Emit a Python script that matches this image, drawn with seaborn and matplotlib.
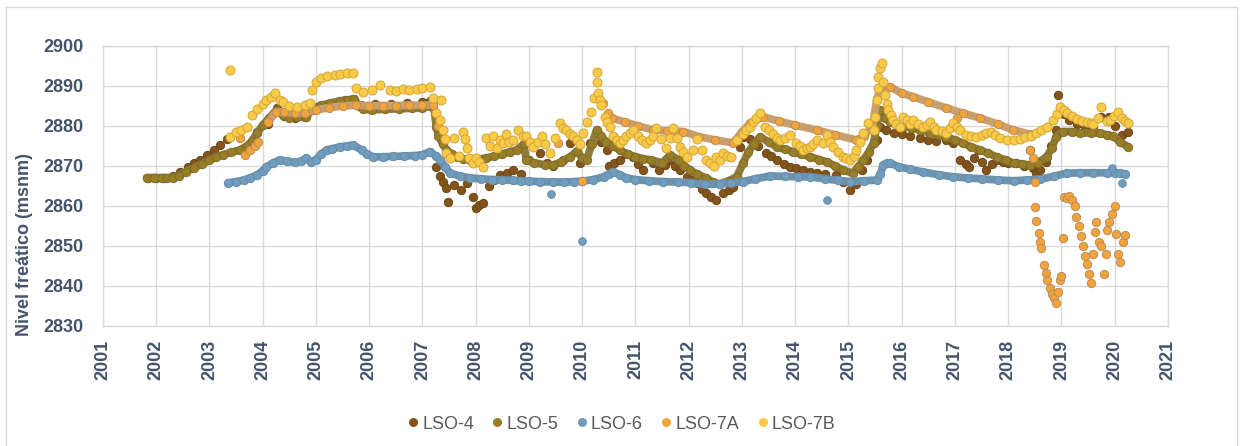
import matplotlib
matplotlib.use("Agg")
import matplotlib.pyplot as plt
import seaborn as sns
import pandas as pd
import numpy as np
from matplotlib.lines import Line2D

# ---------------------------------------------------------------------------
# Nivel freático por pozo (año decimal, msnm)
# ---------------------------------------------------------------------------
lso4 = [(2001.85,2867.0),(2002.0,2867.0),(2002.15,2867.0),(2002.31,2867.5),(2002.45,2868.6),(2002.6,2869.8),
        (2002.7,2870.7),(2002.82,2871.6),(2002.95,2872.7),(2003.08,2874.0),(2003.2,2875.2),(2003.32,2876.8),
        (2003.9,2878.6),(2004.1,2880.5),(2004.26,2884.5),(2004.4,2882.5),(2004.6,2882.0),(2004.8,2882.2),
        (2004.95,2884.0),(2005.15,2885.0),(2005.35,2885.8),(2005.55,2886.4),(2005.7,2886.8),(2005.85,2885.3),
        (2006.1,2885.4),(2006.4,2885.6),(2006.7,2885.8),(2007.0,2886.0),(2007.15,2886.2),(2007.26,2869.8),
        (2007.33,2867.5),(2007.38,2866.0),(2007.45,2864.5),(2007.48,2861.0),(2007.6,2865.2),(2007.72,2864.0),
        (2007.83,2865.7),(2007.95,2862.3),(2008.0,2859.5),(2008.07,2860.2),(2008.14,2860.7),(2008.25,2865.0),
        (2008.35,2866.5),(2008.45,2867.7),(2008.58,2868.3),(2008.7,2869.0),(2008.85,2868.0),(2009.0,2871.5),
        (2009.2,2873.2),(2009.33,2870.7),(2009.45,2870.0),(2009.64,2871.5),(2009.77,2875.7),(2009.95,2870.7),
        (2010.15,2875.7),(2010.27,2878.5),(2010.36,2876.0),(2010.46,2874.0),(2010.5,2870.0),(2010.6,2870.8),
        (2010.7,2871.5),(2010.82,2873.0),(2010.95,2872.3),(2011.05,2870.5),(2011.14,2869.0),(2011.33,2870.7),
        (2011.45,2869.0),(2011.55,2870.2),(2011.65,2871.5),(2011.75,2870.0),(2011.83,2869.0),(2011.96,2867.3),
        (2012.05,2866.5),(2012.15,2865.7),(2012.25,2864.3),(2012.33,2863.2),(2012.42,2862.3),(2012.52,2861.5),
        (2012.65,2863.2),(2012.75,2864.0),(2012.83,2864.8),(2012.96,2874.8),(2013.02,2877.2),(2013.15,2876.7),
        (2013.3,2875.0),(2013.46,2873.2),(2013.55,2872.5),(2013.65,2871.5),(2013.78,2870.5),(2013.9,2869.8),
        (2014.02,2869.5),(2014.15,2869.0),(2014.28,2868.6),(2014.4,2868.2),(2014.55,2868.0),(2014.77,2867.7),
        (2014.9,2866.0),(2015.03,2864.0),(2015.15,2865.5),(2015.25,2869.0),(2015.34,2871.5),(2015.47,2875.7),
        (2015.53,2876.5),(2015.59,2879.8),(2015.7,2879.0),(2015.85,2878.3),(2016.0,2878.0),(2016.15,2877.5),
        (2016.34,2877.0),(2016.5,2876.5),(2016.65,2876.3),(2016.84,2876.5),(2016.96,2875.7),(2017.1,2871.5),
        (2017.2,2870.5),(2017.27,2869.8),(2017.35,2872.0),(2017.43,2874.0),(2017.5,2871.0),(2017.59,2869.0),
        (2017.7,2870.5),(2017.78,2871.5),(2017.9,2871.0),(2018.0,2870.8),(2018.15,2870.7),(2018.3,2870.0),
        (2018.4,2874.0),(2018.47,2869.5),(2018.53,2868.2),(2018.6,2869.0),(2018.7,2871.0),(2018.8,2875.0),
        (2018.9,2879.0),(2018.94,2887.8),(2019.05,2883.0),(2019.15,2881.5),(2019.3,2880.5),(2019.45,2880.0),
        (2019.6,2879.5),(2019.75,2882.3),(2019.9,2882.3),(2020.0,2880.0),(2020.13,2877.7),(2020.25,2878.5)]

lso5 = [(2001.82,2867.1),(2001.95,2867.1),(2002.1,2867.1),(2002.2,2867.1),(2002.31,2867.1),(2002.42,2867.6),
        (2002.55,2868.5),(2002.7,2869.5),(2002.85,2870.5),(2003.0,2871.4),(2003.13,2872.3),(2003.25,2872.8),
        (2003.4,2873.4),(2003.57,2874.0),(2003.7,2875.0),(2003.8,2876.3),(2003.89,2878.2),(2004.0,2880.2),
        (2004.12,2882.0),(2004.26,2884.0),(2004.38,2882.7),(2004.5,2882.0),(2004.65,2882.2),(2004.82,2882.3),
        (2004.95,2884.5),(2005.1,2885.2),(2005.26,2885.7),(2005.45,2886.3),(2005.6,2886.5),(2005.72,2886.8),
        (2005.8,2885.0),(2005.89,2884.2),(2006.05,2884.0),(2006.3,2884.2),(2006.55,2884.3),(2006.8,2884.4),
        (2007.0,2884.5),(2007.14,2885.0),(2007.2,2886.0),(2007.26,2879.8),(2007.3,2877.5),(2007.38,2875.5),
        (2007.45,2874.0),(2007.55,2873.0),(2007.64,2872.3),(2007.76,2871.8),(2007.89,2871.5),(2008.05,2871.7),
        (2008.2,2872.0),(2008.35,2872.5),(2008.5,2873.0),(2008.65,2873.6),(2008.77,2874.0),(2008.9,2875.5),
        (2008.95,2871.5),(2009.1,2870.8),(2009.3,2870.3),(2009.45,2870.2),(2009.6,2871.0),(2009.77,2872.3),
        (2009.9,2873.7),(2010.0,2872.0),(2010.08,2871.5),(2010.18,2875.5),(2010.27,2879.0),(2010.36,2877.5),
        (2010.45,2876.0),(2010.58,2875.0),(2010.7,2874.0),(2010.85,2873.0),(2011.0,2872.3),(2011.15,2871.8),
        (2011.3,2871.5),(2011.5,2870.8),(2011.65,2872.7),(2011.82,2871.5),(2011.92,2870.0),(2012.02,2869.0),
        (2012.15,2868.0),(2012.33,2867.0),(2012.45,2866.0),(2012.58,2865.5),(2012.75,2866.3),(2012.9,2867.3),
        (2013.02,2870.7),(2013.12,2873.5),(2013.22,2875.5),(2013.34,2877.3),(2013.5,2876.0),(2013.65,2874.8),
        (2013.8,2874.2),(2013.96,2873.6),(2014.1,2873.0),(2014.28,2872.3),(2014.45,2871.6),(2014.6,2871.0),
        (2014.75,2870.0),(2014.9,2869.0),(2015.08,2868.2),(2015.18,2869.8),(2015.28,2871.5),(2015.38,2873.5),
        (2015.47,2875.7),(2015.53,2880.0),(2015.6,2884.0),(2015.68,2882.0),(2015.78,2881.0),(2015.97,2879.8),
        (2016.2,2879.5),(2016.35,2879.0),(2016.53,2878.2),(2016.7,2877.8),(2016.84,2877.3),(2017.0,2876.5),
        (2017.15,2875.7),(2017.3,2874.8),(2017.47,2874.0),(2017.62,2873.2),(2017.78,2872.3),(2017.95,2871.5),
        (2018.1,2870.7),(2018.25,2870.5),(2018.4,2870.3),(2018.55,2870.8),(2018.72,2872.3),(2018.82,2874.5),
        (2018.9,2877.3),(2019.03,2878.6),(2019.2,2878.6),(2019.35,2878.2),(2019.55,2878.3),(2019.72,2878.2),
        (2019.85,2877.8),(2019.97,2877.5),(2020.1,2876.0),(2020.25,2874.8)]

lso6 = [(2003.35,2865.8),(2003.5,2866.1),(2003.65,2866.5),(2003.76,2867.0),(2003.9,2867.8),(2004.0,2868.8),
        (2004.07,2869.8),(2004.2,2870.8),(2004.32,2871.5),(2004.45,2871.2),(2004.6,2870.9),(2004.72,2871.2),
        (2004.82,2872.0),(2004.9,2871.0),(2005.0,2871.6),(2005.1,2873.0),(2005.2,2874.0),(2005.3,2874.3),
        (2005.45,2874.8),(2005.58,2875.0),(2005.7,2875.2),(2005.86,2874.0),(2005.95,2873.0),(2006.07,2872.3),
        (2006.25,2872.3),(2006.45,2872.4),(2006.65,2872.5),(2006.85,2872.6),(2007.0,2872.8),(2007.14,2873.6),
        (2007.25,2872.5),(2007.33,2871.5),(2007.42,2869.8),(2007.52,2868.2),(2007.7,2867.5),(2007.9,2867.0),
        (2008.1,2866.8),(2008.3,2866.6),(2008.5,2866.5),(2008.7,2866.4),(2008.85,2866.2),(2009.0,2866.2),
        (2009.2,2866.1),(2009.45,2866.0),(2009.65,2866.0),(2009.85,2866.1),(2010.0,2866.2),(2010.2,2866.6),
        (2010.4,2867.3),(2010.5,2868.0),(2010.58,2868.6),(2010.7,2867.8),(2010.83,2867.0),(2011.0,2866.6),
        (2011.25,2866.3),(2011.52,2866.1),(2011.8,2866.0),(2012.05,2865.8),(2012.3,2865.4),(2012.58,2865.5),
        (2012.8,2865.8),(2013.02,2866.1),(2013.25,2866.8),(2013.53,2867.5),(2013.8,2867.4),(2014.05,2867.3),
        (2014.28,2867.3),(2014.55,2866.8),(2014.8,2866.4),(2015.03,2866.1),(2015.3,2866.3),(2015.53,2866.5),
        (2015.6,2868.0),(2015.65,2870.2),(2015.72,2870.7),(2015.78,2870.7),(2015.95,2869.8),(2016.15,2869.2),
        (2016.4,2868.5),(2016.7,2867.8),(2016.96,2867.3),(2017.25,2867.0),(2017.5,2866.8),(2017.8,2866.5),
        (2018.1,2866.3),(2018.35,2866.5),(2018.6,2866.7),(2018.85,2867.4),(2019.1,2868.2),(2019.35,2868.3),
        (2019.6,2868.3),(2019.85,2868.3),(2020.0,2868.3),(2020.1,2868.2),(2020.2,2868.0)]
lso6_aislados = [(2009.41,2863.0),(2010.0,2851.3),(2014.6,2861.5),(2019.94,2869.4),(2020.13,2865.8)]

lso7a_tramo1 = [(2004.1,2881.0),(2004.25,2883.5),(2004.4,2883.5),(2004.6,2883.2),(2004.8,2883.3),(2005.0,2884.0),
                (2005.25,2884.6),(2005.5,2885.0),(2005.75,2885.2),(2006.0,2885.1),(2006.25,2885.1),(2006.5,2885.1),
                (2006.75,2885.2),(2007.0,2885.2),(2007.2,2885.3)]
lso7a_tramo2 = [(2010.55,2882.0),(2010.8,2881.0),(2011.05,2880.0),(2011.33,2879.0),(2011.6,2878.8),(2011.9,2878.6),
                (2012.2,2877.3),(2012.5,2876.5),(2012.83,2875.8),(2013.0,2878.5),(2013.15,2880.7),(2013.4,2882.3),
                (2013.7,2881.2),(2014.0,2880.2),(2014.4,2879.0),(2014.75,2877.8),(2015.15,2876.5),(2015.3,2877.5),
                (2015.45,2880.0),(2015.53,2886.5),(2015.6,2889.8),(2015.78,2889.8),(2016.0,2888.2),(2016.22,2887.3),
                (2016.5,2886.0),(2016.84,2884.5),(2017.15,2883.2),(2017.47,2882.0),(2017.8,2880.5),(2018.09,2879.0),
                (2018.4,2878.0)]
lso7a_sueltos = [(2003.57,2877.0),(2003.67,2872.7),(2003.76,2874.0),(2003.85,2875.0),(2003.92,2876.0),(2007.3,2880.0),
                 (2009.55,2875.7),(2010.0,2866.2),(2010.39,2885.7),(2010.48,2883.2),(2017.03,2882.0),(2018.4,2874.0),
                 (2018.47,2872.0),(2018.5,2866.0),(2018.5,2859.7),(2018.53,2856.2),(2018.57,2853.3),(2018.6,2851.0),
                 (2018.62,2849.5),(2018.68,2845.2),(2018.7,2843.2),(2018.73,2841.5),(2018.78,2839.5),(2018.82,2838.0),
                 (2018.86,2837.0),(2018.9,2835.7),(2018.93,2838.5),(2018.97,2841.5),(2019.0,2842.5),(2019.02,2852.0),
                 (2019.05,2862.3),(2019.1,2862.0),(2019.15,2862.5),(2019.2,2861.5),(2019.25,2860.0),(2019.28,2857.3),
                 (2019.32,2855.0),(2019.36,2852.5),(2019.4,2850.0),(2019.44,2847.5),(2019.48,2845.5),(2019.52,2843.0),
                 (2019.56,2840.7),(2019.6,2848.0),(2019.62,2853.5),(2019.65,2856.0),(2019.7,2851.0),(2019.75,2850.0),
                 (2019.8,2843.0),(2019.83,2848.0),(2019.86,2854.0),(2019.9,2856.0),(2019.95,2858.0),(2020.0,2860.0),
                 (2020.03,2853.0),(2020.07,2848.0),(2020.1,2846.0),(2020.16,2851.0),(2020.2,2852.7)]

lso7b = [(2003.38,2894.0),(2003.38,2877.3),(2003.5,2878.6),(2003.6,2879.0),(2003.7,2879.7),(2003.79,2882.7),
         (2003.9,2884.3),(2004.0,2885.5),(2004.07,2886.5),(2004.15,2887.3),(2004.23,2888.3),(2004.33,2886.5),
         (2004.38,2886.0),(2004.5,2885.0),(2004.65,2884.8),(2004.8,2885.2),(2004.89,2885.7),(2004.92,2889.0),
         (2005.0,2891.0),(2005.1,2892.0),(2005.2,2892.5),(2005.35,2892.8),(2005.45,2893.0),(2005.58,2893.2),
         (2005.7,2893.3),(2005.76,2889.4),(2005.89,2888.5),(2006.05,2889.0),(2006.2,2890.2),(2006.39,2889.0),
         (2006.5,2888.8),(2006.64,2889.3),(2006.75,2889.0),(2006.89,2889.3),(2007.0,2889.5),(2007.14,2889.8),
         (2007.2,2887.0),(2007.26,2883.2),(2007.32,2881.5),(2007.35,2886.5),(2007.38,2879.0),(2007.42,2876.7),
         (2007.45,2873.2),(2007.52,2872.0),(2007.6,2877.0),(2007.68,2872.5),(2007.76,2878.6),(2007.79,2876.7),
         (2007.83,2874.5),(2007.88,2872.0),(2007.95,2870.7),(2008.0,2872.0),(2008.07,2871.0),(2008.14,2869.8),
         (2008.2,2877.0),(2008.26,2875.0),(2008.33,2877.5),(2008.39,2874.5),(2008.45,2876.5),(2008.51,2875.7),
         (2008.57,2878.0),(2008.63,2876.0),(2008.7,2876.5),(2008.8,2879.0),(2008.89,2877.5),(2008.95,2877.5),
         (2009.02,2876.0),(2009.08,2874.8),(2009.16,2876.0),(2009.24,2877.5),(2009.3,2875.5),(2009.39,2873.2),
         (2009.48,2877.0),(2009.58,2880.7),(2009.64,2879.5),(2009.7,2879.0),(2009.77,2878.0),(2009.83,2877.5),
         (2009.9,2876.5),(2009.95,2875.5),(2010.01,2878.2),(2010.08,2881.0),(2010.17,2883.6),(2010.23,2887.0),
         (2010.27,2893.6),(2010.28,2891.0),(2010.3,2888.3),(2010.33,2886.5),(2010.36,2885.2),(2010.42,2882.3),
         (2010.47,2881.0),(2010.52,2879.8),(2010.58,2877.5),(2010.65,2876.5),(2010.71,2875.7),(2010.77,2876.5),
         (2010.83,2877.5),(2010.9,2878.3),(2010.95,2879.0),(2011.04,2877.5),(2011.12,2876.5),(2011.2,2875.7),
         (2011.27,2876.5),(2011.33,2877.5),(2011.39,2879.4),(2011.48,2876.7),(2011.58,2874.5),(2011.65,2877.0),
         (2011.7,2879.5),(2011.77,2877.0),(2011.83,2874.8),(2011.9,2873.5),(2011.96,2872.3),(2012.08,2874.0),
         (2012.15,2876.7),(2012.24,2874.0),(2012.33,2871.5),(2012.4,2870.7),(2012.48,2870.0),(2012.52,2872.3),
         (2012.58,2871.5),(2012.65,2873.2),(2012.72,2872.5),(2012.8,2872.3),(2012.9,2876.5),(2013.02,2878.0),
         (2013.08,2879.0),(2013.15,2879.8),(2013.2,2881.0),(2013.27,2882.0),(2013.34,2883.2),(2013.43,2879.8),
         (2013.5,2879.0),(2013.59,2878.0),(2013.65,2877.0),(2013.71,2876.5),(2013.8,2877.0),(2013.9,2877.7),
         (2014.02,2875.7),(2014.08,2875.0),(2014.15,2874.0),(2014.22,2874.5),(2014.28,2874.8),(2014.34,2875.5),
         (2014.4,2876.5),(2014.52,2875.7),(2014.59,2877.7),(2014.65,2876.0),(2014.71,2874.8),(2014.8,2873.5),
         (2014.9,2872.3),(2014.96,2872.0),(2015.03,2871.5),(2015.1,2872.5),(2015.15,2874.0),(2015.22,2876.0),
         (2015.28,2878.2),(2015.37,2880.7),(2015.47,2879.0),(2015.5,2882.3),(2015.53,2886.5),(2015.55,2889.5),
         (2015.56,2892.3),(2015.6,2894.5),(2015.62,2895.7),(2015.65,2891.0),(2015.68,2887.7),(2015.72,2885.5),
         (2015.75,2884.0),(2015.8,2882.7),(2015.84,2881.5),(2015.9,2880.5),(2015.96,2879.8),(2016.03,2882.3),
         (2016.1,2881.5),(2016.15,2880.5),(2016.22,2881.5),(2016.3,2880.5),(2016.4,2879.8),(2016.47,2880.2),
         (2016.53,2881.0),(2016.6,2879.8),(2016.65,2879.0),(2016.75,2878.8),(2016.84,2878.2),(2016.9,2879.5),
         (2016.96,2880.7),(2017.03,2879.8),(2017.1,2879.0),(2017.2,2877.7),(2017.3,2877.5),(2017.4,2877.3),
         (2017.5,2877.8),(2017.59,2878.2),(2017.67,2878.5),(2017.75,2877.7),(2017.85,2877.0),(2017.97,2876.5),
         (2018.1,2876.5),(2018.22,2876.8),(2018.32,2877.2),(2018.42,2877.6),(2018.53,2878.2),(2018.62,2879.0),
         (2018.72,2879.8),(2018.84,2881.5),(2018.92,2883.0),(2018.97,2884.8),(2019.05,2884.0),(2019.1,2883.3),
         (2019.2,2882.5),(2019.29,2881.8),(2019.38,2881.3),(2019.47,2881.0),(2019.55,2880.8),(2019.6,2880.5),
         (2019.68,2882.0),(2019.75,2884.8),(2019.85,2881.2),(2019.92,2881.5),(2019.98,2882.5),(2020.07,2883.6),
         (2020.13,2882.0),(2020.19,2881.2),(2020.25,2880.8)]

pozos = ["LSO-4", "LSO-5", "LSO-6", "LSO-7A", "LSO-7B"]
anios = list(range(2001, 2022))
niveles = list(range(2830, 2901, 10))

# ---------------------------------------------------------------------------
# Estilo
# ---------------------------------------------------------------------------
relleno = {"LSO-4": "#84541A", "LSO-5": "#9A7E24", "LSO-6": "#6F9DBF",
           "LSO-7A": "#F2A33A", "LSO-7B": "#F8CA45"}
borde = {"LSO-4": "#6A4716", "LSO-5": "#7E6C32", "LSO-6": "#6A8CA6",
         "LSO-7A": "#B98D5E", "LSO-7B": "#D3A63C"}
cadena = {"LSO-5": "#8F7C38", "LSO-6": "#6E93AE", "LSO-7A": "#C9A06C"}
texto_eje = "#44546A"
gris = "#D9D9D9"

sns.set_theme(style="whitegrid")
plt.rcParams["font.family"] = ["Liberation Sans", "DejaVu Sans"]

fig = plt.figure(figsize=(12.44, 4.46), dpi=100)
ax = fig.add_axes([103 / 1244, 1 - 326 / 446, (1168 - 103) / 1244, 280 / 446])
ax.set_facecolor("white")


def tabla(pares):
    return pd.DataFrame(pares, columns=["anio", "nivel"])


def cadena_continua(pares, pozo, z):
    df = tabla(pares)
    sns.lineplot(data=df, x="anio", y="nivel", sort=False, estimator=None, ax=ax,
                 color=cadena[pozo], lw=5.6, solid_capstyle="round", zorder=z, legend=False)


def puntos(pares, pozo, z, s=36):
    df = tabla(pares)
    sns.scatterplot(data=df, x="anio", y="nivel", ax=ax, s=s, color=relleno[pozo],
                    edgecolor=borde[pozo], linewidth=0.7, zorder=z, legend=False)


# LSO-4
puntos(lso4, "LSO-4", 3)
# LSO-5
cadena_continua(lso5, "LSO-5", 4)
puntos(lso5, "LSO-5", 4.1)
# LSO-6
cadena_continua(lso6, "LSO-6", 5)
puntos(lso6, "LSO-6", 5.1)
puntos(lso6_aislados, "LSO-6", 5.2, s=30)
# LSO-7A
cadena_continua(lso7a_tramo1, "LSO-7A", 6)
cadena_continua(lso7a_tramo2, "LSO-7A", 6)
puntos(lso7a_tramo1, "LSO-7A", 6.1)
puntos(lso7a_tramo2, "LSO-7A", 6.1)
puntos(lso7a_sueltos, "LSO-7A", 6.2)
# LSO-7B
puntos(lso7b, "LSO-7B", 7, s=42)

# Ejes
ax.set_xlim(anios[0], anios[-1])
ax.set_ylim(niveles[0], niveles[-1])
ax.set_xticks(anios)
ax.set_xticklabels([str(a) for a in anios], rotation=90)
ax.set_yticks(niveles)
ax.set_xlabel("")
ax.set_ylabel("Nivel freático (msnm)", fontsize=13, fontweight="bold", color=texto_eje)
ax.yaxis.set_label_coords(-0.066, 0.29)
ax.tick_params(axis="both", length=0, labelsize=13, labelcolor=texto_eje)
ax.tick_params(axis="y", pad=14)
ax.tick_params(axis="x", pad=10)
for lab in ax.get_xticklabels() + ax.get_yticklabels():
    lab.set_fontweight("bold")
ax.grid(True, color=gris, lw=1.0)
for sp in ax.spines.values():
    sp.set_color(gris)
    sp.set_linewidth(1.0)

# Leyenda
manejadores = [Line2D([], [], ls="none", marker="o", markersize=5.5,
                      markerfacecolor=relleno[p], markeredgecolor=relleno[p], label=p) for p in pozos]
fig.legend(handles=manejadores, loc="center", bbox_to_anchor=(0.5, 0.049), ncol=5, frameon=False,
           fontsize=13, labelcolor="#595959", handlelength=0.5, handletextpad=0.25, columnspacing=1.05)

# Marco exterior del gráfico
for xs, ys in [((6 / 1244, 1237 / 1244), (1 - 7 / 446, 1 - 7 / 446)),
               ((6 / 1244, 6 / 1244), (1 - 7 / 446, 0)),
               ((1237 / 1244, 1237 / 1244), (1 - 7 / 446, 0))]:
    fig.add_artist(Line2D(xs, ys, color=gris, lw=1.0, transform=fig.transFigure))

fig.savefig("out.png", dpi=100, facecolor="white")
